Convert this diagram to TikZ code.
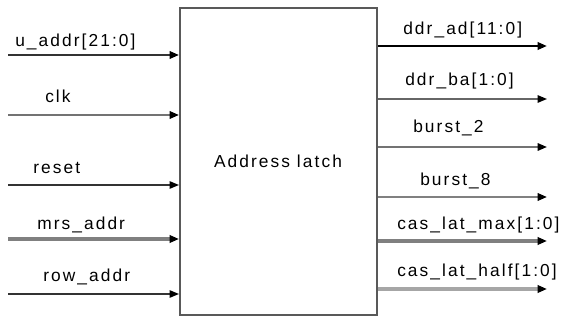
\documentclass[tikz,border=0pt]{standalone}
\usepackage{fontspec}
\setmainfont{Liberation Sans}[LetterSpace=12]
\usetikzlibrary{arrows.meta}
\begin{document}
\begin{tikzpicture}[x=0.75pt,y=-0.75pt,
  sig/.style={font=\fontsize{13pt}{15pt}\selectfont, anchor=base west, inner sep=0pt},
  pin/.style={-{Triangle[length=7pt,width=5.5pt,color=black]}},
  block/.style={draw=black!65, line width=1.5pt, fill=white, minimum width=197*0.75pt, minimum height=307*0.75pt, inner sep=0pt}]
\useasboundingbox (0,0) rectangle (561,320);
% central block
\node[block] (latch) at (278.5,161.5) {};
\node[font=\fontsize{13pt}{15pt}\selectfont, anchor=base] (title) at (278,168) {Address latch};
% input pins
\foreach \n/\y in {a/55,b/115,c/185,d/239,e/294}{
  \coordinate (in\n) at (8,\y);
  \coordinate (inend\n) at (latch.west |- in\n);
}
\draw[pin, draw=black!80, line width=1.6pt] (ina) -- (inenda);
\draw[pin, draw=black!55, line width=1.6pt] (inb) -- (inendb);
\draw[pin, draw=black!80, line width=1.1pt] (inc) -- (inendc);
\draw[pin, draw=black!50, line width=2.4pt] (ind) -- (inendd);
\draw[pin, draw=black!80, line width=1.1pt] (ine) -- (inende);
\node[sig] (la) at (15,47) {u\_addr[21:0]};
\node[sig] (lb) at (45,103) {clk};
\node[sig] (lc) at (33,174) {reset};
\node[sig] (ld) at (37,230) {mrs\_addr};
\node[sig] (le) at (43,282) {row\_addr};
% output pins
\foreach \n/\y in {a/46,b/99,c/147,d/197,e/241,f/289}{
  \coordinate (outstart\n) at (latch.east |- 0,\y);
  \coordinate (out\n) at (547,\y);
}
\draw[pin, draw=black, line width=2pt] (outstarta) -- (outa);
\draw[pin, draw=black!60, line width=1.2pt] (outstartb) -- (outb);
\draw[pin, draw=black!55, line width=1.5pt] (outstartc) -- (outc);
\draw[pin, draw=black!50, line width=1.6pt] (outstartd) -- (outd);
\draw[pin, draw=black!50, line width=2.4pt] (outstarte) -- (oute);
\draw[pin, draw=black!35, line width=2.8pt] (outstartf) -- (outf);
\node[sig] (ra) at (403,35) {ddr\_ad[11:0]};
\node[sig] (rb) at (405,86) {ddr\_ba[1:0]};
\node[sig] (rc) at (413,133) {burst\_2};
\node[sig] (rd) at (420,186) {burst\_8};
\node[sig] (re) at (397,230) {cas\_lat\_max[1:0]};
\node[sig] (rf) at (397,277) {cas\_lat\_half[1:0]};
\end{tikzpicture}
\end{document}
